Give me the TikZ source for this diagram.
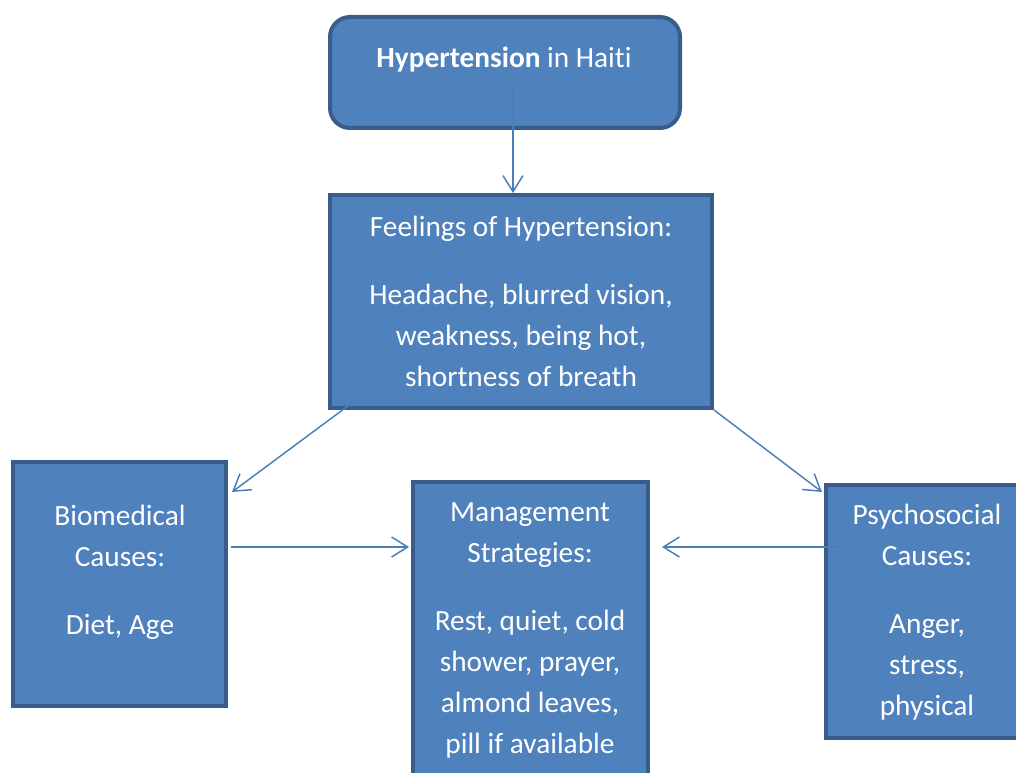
\documentclass[tikz,border=0pt]{standalone}
\usepackage{fontspec}
\setmainfont{Carlito}[Ligatures=NoCommon]
\usetikzlibrary{arrows.meta,positioning}
\tikzset{>={Straight Barb[length=12pt,width=15pt]}}
\definecolor{boxfill}{HTML}{4F81BD}
\definecolor{boxline}{HTML}{385D8A}
\definecolor{linkblue}{HTML}{4A7EBB}

\begin{document}
\begin{tikzpicture}[x=0.75pt, y=-0.75pt,
  box/.style={draw=boxline, fill=boxfill, line width=3pt, anchor=north west, inner sep=0pt},
  txt/.style={text=white, align=center, anchor=north, inner sep=0pt,
    font=\fontsize{22}{30.75}\selectfont},
  link/.style={->, draw=linkblue, line width=1.1pt}]

  \useasboundingbox (0,0) rectangle (1016,773);
  \clip (0,0) rectangle (1016,773);

  %% boxes
  \node[box, rounded corners=15pt, minimum width={350*0.75pt}, minimum height={111*0.75pt}]
    (hyp) at (328,15) {};
  \node[box, minimum width={382*0.75pt}, minimum height={213*0.75pt}] (feel) at (328,193) {};
  \node[box, minimum width={213*0.75pt}, minimum height={244*0.75pt}] (bio) at (11,460) {};
  \node[box, minimum width={235*0.75pt}, minimum height={308*0.75pt}] (man) at (411,480) {};
  \node[box, minimum width={204*0.75pt}, minimum height={253*0.75pt}] (psy) at (824,483) {};

  %% texts
  \node[txt] (hypT) at (504,47) {\textbf{Hypertension} in Haiti};
  \node[txt] (feelT) at (521,216) {Feelings of Hypertension:\\[20.25pt]
    Headache, blurred vision,\\ weakness, being hot,\\ shortness of breath};
  \node[txt] (bioT) at (120,505) {Biomedical\\ Causes:\\[20.25pt] Diet, Age};
  \node[txt] (manT) at (530,502) {Management\\ Strategies:\\[20.25pt]
    Rest, quiet, cold\\ shower, prayer,\\ almond leaves,\\ pill if available};
  \node[txt] (psyT) at (927,504) {Psychosocial\\ Causes:\\[20.25pt] Anger,\\ stress,\\ physical};

  %% connectors
  \coordinate (hypout) at (513,85);
  \coordinate (feelout) at (360,397);
  \coordinate (bioout) at (231,547);
  \coordinate (psyout) at (840,547);

  \draw[link] (hypout) -- (hypout |- feel.north);
  \draw[link] (feelout) -- ([xshift=3pt, yshift=-24pt]bio.north east);
  \draw[link] (feel.south east) -- ([xshift=-1.5pt, yshift=-6.75pt]psy.north west);
  \draw[link] (bioout) -- ([xshift=-1.5pt]bioout -| man.west);
  \draw[link] (psyout) -- ([xshift=9pt]psyout -| man.east);
\end{tikzpicture}
\end{document}
